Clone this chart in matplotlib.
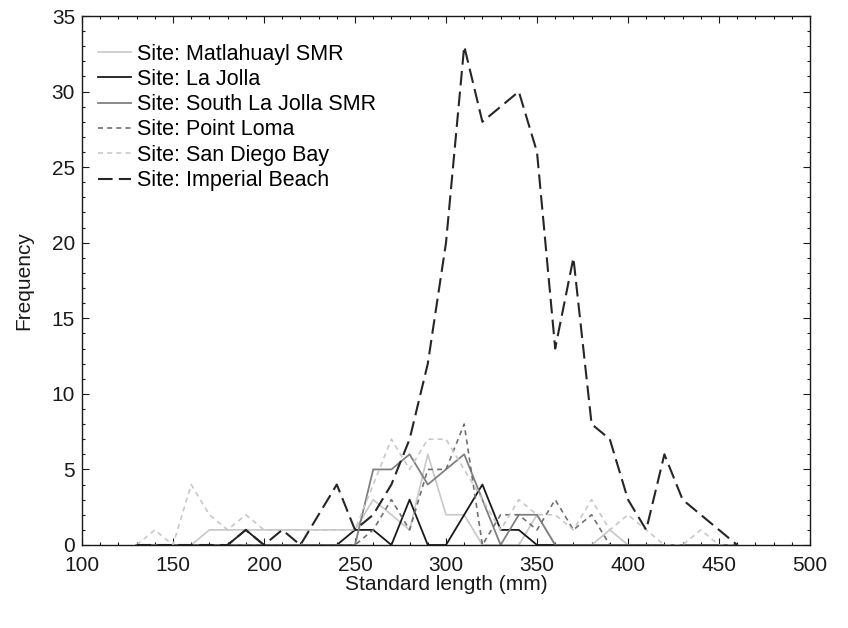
import matplotlib
matplotlib.use("Agg")
import matplotlib.pyplot as plt
from matplotlib.ticker import MultipleLocator

plt.rcParams['font.family'] = ['Liberation Sans', 'DejaVu Sans']

# bin centres (standard length, mm)
lengths = list(range(130, 470, 10))

# frequencies per site, 130..460 mm
matlahuayl = [0, 0, 0, 0, 1, 1, 1, 1, 1, 1, 1, 1, 1, 3, 2, 1, 6, 2, 2, 0,
              0, 0, 2, 0, 0, 0, 1, 0, 0, 0, 0, 0, 0, 0]
la_jolla = [0, 0, 0, 0, 0, 0, 1, 0, 0, 0, 0, 0, 1, 1, 0, 3, 0, 0, 2, 4,
            1, 1, 0, 0, 0, 0, 0, 0, 0, 0, 0, 0, 0, 0]
south_la_jolla = [0, 0, 0, 0, 0, 0, 0, 0, 0, 0, 0, 0, 0, 5, 5, 6, 4, 5, 6, 3,
                  0, 2, 2, 0, 0, 0, 0, 0, 0, 0, 0, 0, 0, 0]
point_loma = [0, 0, 0, 0, 0, 0, 0, 0, 0, 0, 0, 0, 0, 1, 3, 1, 5, 5, 8, 0,
              2, 2, 1, 3, 1, 2, 0, 0, 0, 0, 0, 0, 0, 0]
san_diego_bay = [0, 1, 0, 4, 2, 1, 2, 1, 1, 1, 1, 1, 1, 4, 7, 5, 7, 7, 5, 3,
                 1, 3, 2, 2, 1, 3, 1, 2, 1, 0, 0, 1, 0, 0]
imperial_beach = [0, 0, 0, 0, 0, 0, 1, 0, 1, 0, 2, 4, 1, 2, 4, 7, 12, 20, 33, 28,
                  29, 30, 26, 13, 19, 8, 7, 3, 1, 6, 3, 2, 1, 0]

fig = plt.figure(figsize=(8.48, 6.28), dpi=100)
ax = fig.add_axes([82/848, 1-545/628, 728/848, 529/628])

ax.plot(lengths, matlahuayl, color='#c8c8c8', lw=1.2, label='Site: Matlahuayl SMR')
ax.plot(lengths, la_jolla, color='#1a1a1a', lw=1.3, label='Site: La Jolla')
ax.plot(lengths, south_la_jolla, color='#808080', lw=1.3, label='Site: South La Jolla SMR')
ax.plot(lengths, point_loma, color='#707070', lw=1.2, dashes=(3, 2.5), label='Site: Point Loma')
ax.plot(lengths, san_diego_bay, color='#c8c8c8', lw=1.2, dashes=(3, 2.5), label='Site: San Diego Bay')
ax.plot(lengths, imperial_beach, color='#262626', lw=1.5, dashes=(7, 3), label='Site: Imperial Beach')

ax.set_xlim(100, 500)
ax.set_ylim(0, 35)
ax.xaxis.set_major_locator(MultipleLocator(50))
ax.xaxis.set_minor_locator(MultipleLocator(10))
ax.yaxis.set_major_locator(MultipleLocator(5))
ax.yaxis.set_minor_locator(MultipleLocator(1))
ax.tick_params(which='both', direction='in', top=True, right=True, colors='#1a1a1a',
               labelsize=15, width=0.8)
ax.tick_params(which='major', length=5)
ax.tick_params(axis='x', which='major', pad=8)
ax.tick_params(axis='y', which='major', pad=5)
ax.tick_params(which='minor', length=2.5)
for s in ax.spines.values():
    s.set_color('#1a1a1a')
    s.set_linewidth(1.0)

ax.set_xlabel('Standard length (mm)', fontsize=15, color='#1a1a1a', labelpad=0)
ax.set_ylabel('Frequency', fontsize=15, color='#1a1a1a', labelpad=13)

ax.legend(loc='upper left', bbox_to_anchor=(0.022, 0.948), frameon=False,
          fontsize=15.5, borderpad=0, labelspacing=0.2, handlelength=1.55,
          handletextpad=0.25, borderaxespad=0)

fig.savefig('out.png', dpi=100)
